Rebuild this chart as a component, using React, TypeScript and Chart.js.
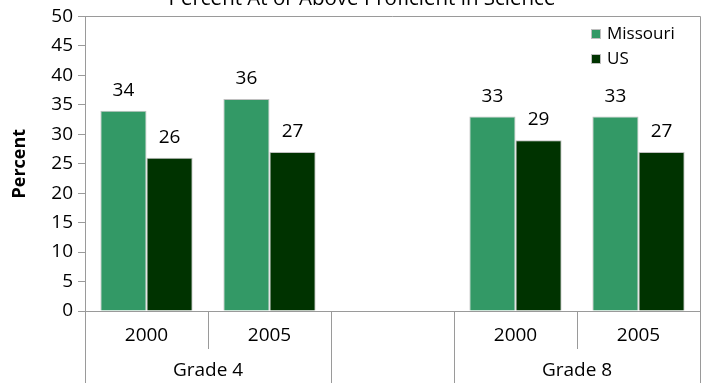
import React, { useEffect, useRef } from "react";
import { Chart, registerables } from "chart.js";

Chart.register(...registerables);

const chartTitle = "Percent At or Above Proficient in Science";
const yAxisTitle = "Percent";
const yearLabels = ["2000", "2005", "", "2000", "2005"];
const groupLabels = ["Grade 4", "Grade 8"];
const groupSpans = [[0, 1], [3, 4]];
const seriesNames = ["Missouri", "US"];
const missouriValues = [34, 36, null, 33, 33];
const usValues = [26, 27, null, 29, 27];
const seriesColors = ["#339966", "#003300"];
const yTicksMax = 50;
const yTicksStep = 5;

const FONT = "'Open Sans', 'DejaVu Sans', sans-serif";
const LINE = "#9a9a9a";

const decorPlugin = {
  id: "decor",
  afterDatasetsDraw(chart: any) {
    const { ctx, chartArea } = chart;
    const xs = chart.scales.x;
    const n = yearLabels.length;
    const cw = (chartArea.right - chartArea.left) / n;
    const H = chart.height;
    ctx.save();
    // data labels
    ctx.fillStyle = "#000";
    ctx.font = `19px ${FONT}`;
    ctx.textAlign = "center";
    ctx.textBaseline = "alphabetic";
    chart.data.datasets.forEach((ds: any, di: number) => {
      const meta = chart.getDatasetMeta(di);
      meta.data.forEach((bar: any, i: number) => {
        const v = ds.data[i];
        if (v === null || v === undefined) return;
        ctx.fillText(String(v), bar.x, bar.y - 15);
      });
    });
    // frame top/right
    ctx.strokeStyle = LINE;
    ctx.lineWidth = 1;
    ctx.beginPath();
    ctx.moveTo(chartArea.left, Math.round(chartArea.top) + 0.5);
    ctx.lineTo(Math.round(chartArea.right) + 0.5, Math.round(chartArea.top) + 0.5);
    ctx.lineTo(Math.round(chartArea.right) + 0.5, H);
    ctx.stroke();
    // category separators
    for (let b = 0; b <= n; b++) {
      const x = Math.round(chartArea.left + b * cw) + 0.5;
      const full = b === 0 || b === n || b === 2 || b === 3;
      ctx.beginPath();
      ctx.moveTo(x, chartArea.bottom);
      ctx.lineTo(x, full ? H : chartArea.bottom + 38);
      ctx.stroke();
    }
    // group labels
    ctx.fillStyle = "#000";
    ctx.font = `19px ${FONT}`;
    ctx.textBaseline = "middle";
    groupSpans.forEach((span, gi) => {
      const x0 = xs.getPixelForTick(span[0]) - cw / 2;
      const x1 = xs.getPixelForTick(span[1]) + cw / 2;
      ctx.fillText(groupLabels[gi], (x0 + x1) / 2, chartArea.bottom + 60);
    });
    // chart title (clipped at top)
    ctx.font = `20.5px ${FONT}`;
    ctx.textBaseline = "alphabetic";
    ctx.fillText(chartTitle, 362, 4.5);
    // y axis title
    ctx.save();
    ctx.translate(20, (chartArea.top + chartArea.bottom) / 2);
    ctx.rotate(-Math.PI / 2);
    ctx.font = `bold 18px ${FONT}`;
    ctx.textBaseline = "middle";
    ctx.fillText(yAxisTitle, 0, 0);
    ctx.restore();
    // legend
    ctx.font = `17px ${FONT}`;
    ctx.textAlign = "left";
    ctx.textBaseline = "middle";
    seriesNames.forEach((name, i) => {
      const cy = 34 + i * 25;
      ctx.fillStyle = seriesColors[i];
      ctx.fillRect(591, cy - 4.5, 9, 9);
      ctx.strokeStyle = "#bfbfbf";
      ctx.strokeRect(591.5, cy - 4.5, 9, 9);
      ctx.fillStyle = "#000";
      ctx.fillText(name, 607, cy);
    });
    ctx.restore();
  },
};

export default function App() {
  const ref = useRef<HTMLCanvasElement | null>(null);
  useEffect(() => {
    if (!ref.current) return;
    Chart.defaults.font.family = FONT;
    const chart = new Chart(ref.current, {
      type: "bar",
      data: {
        labels: yearLabels,
        datasets: [
          {
            label: seriesNames[0],
            data: missouriValues as any,
            backgroundColor: seriesColors[0],
            borderColor: "#c0c0c0",
            borderWidth: 1,
          },
          {
            label: seriesNames[1],
            data: usValues as any,
            backgroundColor: seriesColors[1],
            borderColor: "#c0c0c0",
            borderWidth: 1,
          },
        ],
      },
      options: {
        animation: false,
        responsive: true,
        maintainAspectRatio: false,
        layout: { padding: { top: 12.5, right: 5, left: 0, bottom: 0 } },
        datasets: { bar: { barPercentage: 1, categoryPercentage: 0.75 } },
        plugins: {
          legend: { display: false },
          title: { display: false },
          tooltip: { enabled: false },
        },
        scales: {
          x: {
            grid: { display: false, drawTicks: false, tickLength: 0 },
            border: { display: true, color: LINE },
            ticks: {
              color: "#000",
              font: { size: 19, family: FONT },
              padding: 13,
              maxRotation: 0,
              autoSkip: false,
            },
            afterFit: (s: any) => {
              s.height = 72;
            },
          },
          y: {
            min: 0,
            max: yTicksMax,
            grid: {
              display: true,
              drawOnChartArea: false,
              drawTicks: true,
              tickLength: 7,
              color: LINE,
            },
            border: { display: true, color: LINE },
            ticks: {
              stepSize: yTicksStep,
              color: "#000",
              font: { size: 19, family: FONT },
              padding: 5,
            },
            afterFit: (s: any) => {
              s.width = 85;
            },
          },
        },
      },
      plugins: [decorPlugin],
    });
    return () => chart.destroy();
  }, []);
  return (
    <div style={{ position: "fixed", left: 0, top: 0, width: 705, height: 383, background: "#fff" }}>
      <canvas ref={ref} />
    </div>
  );
}
